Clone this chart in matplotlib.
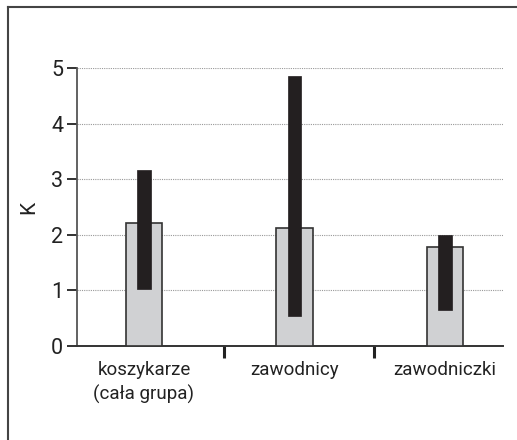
import matplotlib
matplotlib.use("Agg")
import matplotlib.pyplot as plt
from matplotlib.lines import Line2D

plt.rcParams['font.family'] = ['Roboto', 'DejaVu Sans']

categories = ['koszykarze\n(cała grupa)', 'zawodnicy', 'zawodniczki']
means = [2.21, 2.13, 1.78]
range_low = [1.03, 0.54, 0.65]
range_high = [3.17, 4.87, 1.99]
y_ticks = [0, 1, 2, 3, 4, 5]

fig = plt.figure(figsize=(5.17, 4.4), dpi=100)
ax = fig.add_axes([77 / 517, 94 / 440, 426 / 517, 277.7 / 440])

x = list(range(len(categories)))
ax.bar(x, means, width=0.245, color='#d0d1d3', edgecolor='#333333',
       linewidth=1.2, zorder=3)
heights = [h - l for h, l in zip(range_high, range_low)]
ax.bar(x, heights, bottom=range_low, width=0.087, color='#231f20',
       edgecolor='#231f20', linewidth=0.5, zorder=4)

ax.set_xlim(-0.445, 2.385)
ax.set_ylim(0, 5)
ax.set_yticks(y_ticks)
for y in y_ticks[1:]:
    ax.axhline(y, color='#999999', linewidth=0.8, linestyle=(0, (1, 1)), zorder=1)

ax.set_xticks(x)
ax.set_xticklabels(categories, fontsize=13.5, linespacing=1.35, color='#222222')
ax.tick_params(axis='x', which='major', length=0, pad=11)
ax.set_xticks([0.53, 1.53], minor=True)
ax.tick_params(axis='x', which='minor', length=8.5, width=2.2,
               direction='out', color='#222222')
ax.tick_params(axis='y', length=7, width=1.3, direction='out',
               color='#222222', labelsize=15.5, labelcolor='#222222', pad=3)

ax.set_ylabel('K', fontsize=15, labelpad=9, color='#222222')

for s in ['top', 'right']:
    ax.spines[s].set_visible(False)
ax.spines['left'].set_color('#555555')
ax.spines['left'].set_linewidth(1.3)
ax.spines['bottom'].set_color('#333333')
ax.spines['bottom'].set_linewidth(1.4)

# frame around the figure (top and left edges visible)
fig.add_artist(Line2D([7.5 / 517, 1], [1 - 7.5 / 440, 1 - 7.5 / 440],
                      transform=fig.transFigure, color='#444444', linewidth=1.5))
fig.add_artist(Line2D([7.5 / 517, 7.5 / 517], [0, 1 - 7.5 / 440],
                      transform=fig.transFigure, color='#444444', linewidth=1.5))

fig.savefig('out.png', dpi=100)
